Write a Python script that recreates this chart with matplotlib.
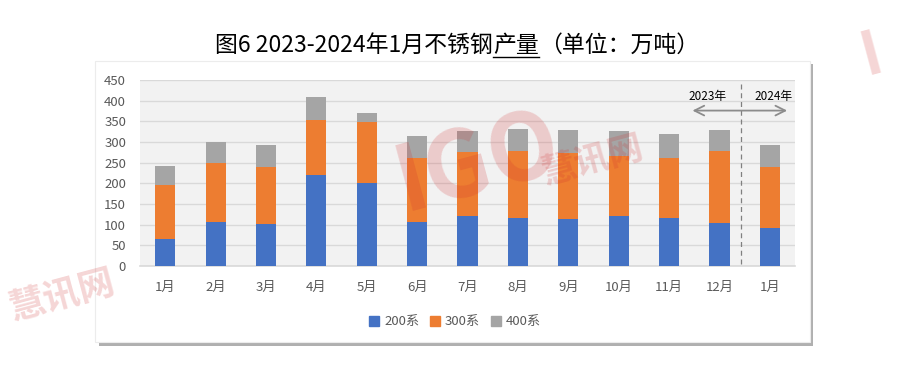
import matplotlib
matplotlib.use('Agg')
import matplotlib.pyplot as plt
from matplotlib.patches import Rectangle
import numpy as np

plt.rcParams['font.family'] = ['Noto Sans CJK SC', 'DejaVu Sans']

months = ['1月', '2月', '3月', '4月', '5月', '6月', '7月', '8月', '9月', '10月', '11月', '12月', '1月']
s200 = [65, 106, 102, 220, 201, 106, 122, 117, 114, 122, 117, 104, 93]
s300 = [131, 143, 138, 133, 148, 156, 155, 162, 160, 145, 145, 174, 147]
s400 = [46, 51, 53, 56, 21, 53, 50, 53, 55, 60, 57, 51, 53]
series_names = ['200系', '300系', '400系']
colors = ['#4472C4', '#ED7D31', '#A5A5A5']
yticks = list(range(0, 451, 50))

title_main = '图6 2023-2024年1月不锈钢'
title_ul = '产量'
title_tail = '（单位：万吨）'

fig = plt.figure(figsize=(9, 3.75), dpi=100)
W, H = 900, 375


def fx(px):
    return px / W


def fy(py):
    return 1 - py / H


# chart box with shadow
fig.patches.append(Rectangle((fx(99), fy(346)), fx(813) - fx(99), fy(64) - fy(346),
                             transform=fig.transFigure, facecolor='#b0b0b0',
                             edgecolor='none', zorder=-2))
fig.patches.append(Rectangle((fx(95), fy(342)), fx(810) - fx(95), fy(61) - fy(342),
                             transform=fig.transFigure, facecolor='white',
                             edgecolor='#ececec', linewidth=0.8, zorder=-1))

ax = fig.add_axes([fx(140), fy(266), fx(795) - fx(140), fy(80) - fy(266)])
ax.set_facecolor('#F2F2F2')

x = np.arange(len(months))
bottom = np.zeros(len(months))
for vals, name, c in zip([s200, s300, s400], series_names, colors):
    ax.bar(x, vals, width=0.4, bottom=bottom, color=c, label=name, zorder=3)
    bottom += np.array(vals)

ax.set_xlim(-0.5, len(months) - 0.5)
ax.set_ylim(0, 450)
ax.set_yticks(yticks)
ax.set_xticks(x)
ax.set_xticklabels(months)
ax.tick_params(axis='both', length=0, colors='#595959', labelsize=9.5)
ax.tick_params(axis='x', pad=11)
ax.tick_params(axis='y', pad=10)
ax.grid(axis='y', color='#D9D9D9', linewidth=1, zorder=0)
for s in ['top', 'right', 'left']:
    ax.spines[s].set_visible(False)
ax.spines['bottom'].set_color('#D9D9D9')
ax.spines['bottom'].set_linewidth(1.2)

# year divider and arrows
ax.plot([11.43, 11.43], [6, 442], color='#808080', linestyle=(0, (4, 3)),
        linewidth=0.9, zorder=4)
ax.annotate('', xy=(10.41, 376), xytext=(12.4, 376),
            arrowprops=dict(arrowstyle='<->,head_length=0.7,head_width=0.35',
                            color='#8c8c8c', linewidth=1.3), zorder=4)
ax.text(10.77, 410, '2023年', ha='center', va='center', fontsize=8.5, color='black', zorder=5)
ax.text(12.08, 410, '2024年', ha='center', va='center', fontsize=8.5, color='black', zorder=5)

# legend
handles = [Rectangle((0, 0), 1, 1, color=c) for c in colors]
fig.legend(handles, series_names, loc='center', bbox_to_anchor=(fx(455), fy(322)),
           ncol=3, frameon=False, fontsize=9.5, handlelength=0.75, handleheight=0.75,
           handletextpad=0.4, columnspacing=0.8, labelcolor='#595959')

# watermark
wm = dict(color='#d03030', alpha=0.2, fontweight='bold', zorder=10)
fig.text(fx(478), fy(163), 'IGO', fontsize=66, rotation=15, ha='center', va='center',
         style='italic', **wm)
fig.text(fx(592), fy(160), '慧讯网', fontsize=25, rotation=15, ha='center', va='center', **wm)
fig.text(fx(62), fy(296), '慧讯网', fontsize=26, rotation=15, ha='center', va='center', **wm)
fig.text(fx(872), fy(55), 'I', fontsize=44, rotation=15, ha='center', va='center',
         style='italic', **wm)

# title with underline on part
tkw = dict(fontsize=16.5, color='black', va='center', fontweight='medium')
fig.canvas.draw()
r = fig.canvas.get_renderer()
parts = [title_main, title_ul, title_tail]
widths = []
for p in parts:
    t = fig.text(0, 0, p, **tkw)
    widths.append(t.get_window_extent(r).width)
    t.remove()
total = sum(widths)
x0 = 457 - total / 2
for p, w in zip(parts, widths):
    fig.text(fx(x0), fy(45), p, ha='left', **tkw)
    if p == title_ul:
        fig.add_artist(plt.Line2D([fx(x0), fx(x0 + w)], [fy(57), fy(57)],
                                  transform=fig.transFigure, color='black', linewidth=1))
    x0 += w

fig.savefig('out.png', dpi=100)
